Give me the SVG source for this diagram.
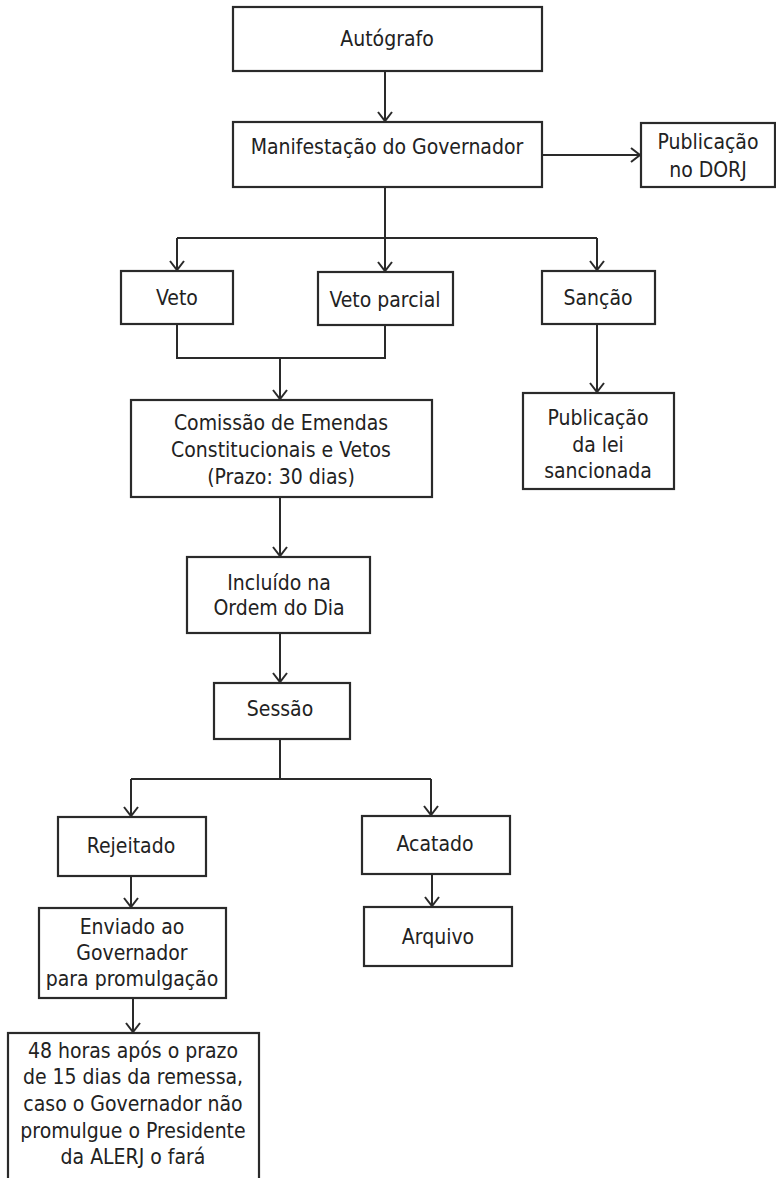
<svg xmlns="http://www.w3.org/2000/svg" width="776" height="1178" viewBox="0 0 776 1178">
<defs>
<marker id="arr" markerUnits="userSpaceOnUse" markerWidth="20" markerHeight="20" viewBox="-12 -10 14 20" refX="0" refY="0" orient="auto">
<path d="M-9,-7 L0,0 L-9,7" fill="none" stroke="#2a2a2a" stroke-width="2"/>
</marker>
<style>
.box{fill:#fff;stroke:#2a2a2a;stroke-width:2.2}
.t{font-family:"DejaVu Sans Condensed","DejaVu Sans",sans-serif;font-stretch:condensed;font-size:21px;fill:#222;text-anchor:middle;dominant-baseline:central}
.c{fill:none;stroke:#2a2a2a;stroke-width:2}
.a{marker-end:url(#arr)}
</style>
</defs>
<rect width="776" height="1178" fill="#fff"/>
<g id="connectors">
<path class="c a" d="M385,71 V121"/>
<path class="c a" d="M542,155 H640"/>
<path class="c" d="M385,187 V238 M177,238 H597"/>
<path class="c a" d="M177,238 V270"/>
<path class="c a" d="M385,238 V271"/>
<path class="c a" d="M597,238 V270"/>
<path class="c" d="M177,324 V358 H385 V325"/>
<path class="c a" d="M280,358 V399"/>
<path class="c a" d="M597,324 V392"/>
<path class="c a" d="M280,497 V556"/>
<path class="c a" d="M280,633 V682"/>
<path class="c" d="M280,739 V779 M131,779 H431"/>
<path class="c a" d="M131,779 V816"/>
<path class="c a" d="M431,779 V815"/>
<path class="c a" d="M131,876 V907"/>
<path class="c a" d="M432,874 V906"/>
<path class="c a" d="M133,998 V1032"/>
</g>
<g id="autografo"><rect class="box" x="233" y="7" width="309" height="64"/><text class="t" x="387" y="39">Autógrafo</text></g>
<g id="manifestacao"><rect class="box" x="233" y="122" width="309" height="65"/><text class="t" x="387" y="147">Manifestação do Governador</text></g>
<g id="publicacao-dorj"><rect class="box" x="641" y="123" width="134" height="64"/><text class="t" x="708" y="142">Publicação</text><text class="t" x="708" y="170">no DORJ</text></g>
<g id="veto"><rect class="box" x="121" y="271" width="112" height="53"/><text class="t" x="177" y="298">Veto</text></g>
<g id="veto-parcial"><rect class="box" x="318" y="272" width="135" height="53"/><text class="t" x="385" y="300">Veto parcial</text></g>
<g id="sancao"><rect class="box" x="542" y="271" width="113" height="53"/><text class="t" x="598" y="298">Sanção</text></g>
<g id="comissao"><rect class="box" x="131" y="400" width="301" height="97"/><text class="t" x="281" y="423">Comissão de Emendas</text><text class="t" x="281" y="450">Constitucionais e Vetos</text><text class="t" x="281" y="477">(Prazo: 30 dias)</text></g>
<g id="publicacao-lei"><rect class="box" x="523" y="393" width="151" height="96"/><text class="t" x="598" y="418">Publicação</text><text class="t" x="598" y="445">da lei</text><text class="t" x="598" y="471">sancionada</text></g>
<g id="incluido"><rect class="box" x="187" y="557" width="183" height="76"/><text class="t" x="279" y="583">Incluído na</text><text class="t" x="279" y="608">Ordem do Dia</text></g>
<g id="sessao"><rect class="box" x="214" y="683" width="136" height="56"/><text class="t" x="280" y="709">Sessão</text></g>
<g id="rejeitado"><rect class="box" x="58" y="817" width="148" height="59"/><text class="t" x="131" y="846">Rejeitado</text></g>
<g id="acatado"><rect class="box" x="362" y="816" width="148" height="58"/><text class="t" x="435" y="844">Acatado</text></g>
<g id="enviado"><rect class="box" x="39" y="908" width="187" height="90"/><text class="t" x="132" y="927">Enviado ao</text><text class="t" x="132" y="953">Governador</text><text class="t" x="132" y="979">para promulgação</text></g>
<g id="arquivo"><rect class="box" x="364" y="907" width="148" height="59"/><text class="t" x="438" y="937">Arquivo</text></g>
<g id="promulgacao-alerj"><rect class="box" x="8" y="1033" width="251" height="170"/><text class="t" x="133" y="1051">48 horas após o prazo</text><text class="t" x="133" y="1077">de 15 dias da remessa,</text><text class="t" x="133" y="1104">caso o Governador não</text><text class="t" x="133" y="1131">promulgue o Presidente</text><text class="t" x="133" y="1157">da ALERJ o fará</text></g>
</svg>
